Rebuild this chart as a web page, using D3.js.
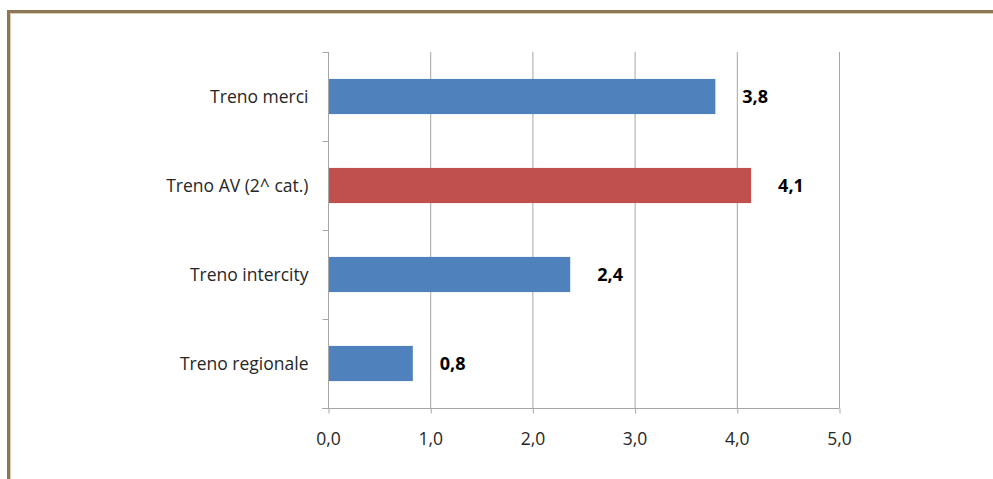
<!DOCTYPE html>
<html>
<head>
<meta charset="utf-8">
<script src="https://cdn.jsdelivr.net/npm/d3@7"></script>
<style>
  html, body { margin: 0; padding: 0; background: #fff; }
  svg { display: block; }
</style>
</head>
<body>
<svg id="chart" width="993" height="479"></svg>
<script>
// Train categories, top to bottom
const categories = ["Treno merci", "Treno AV (2^ cat.)", "Treno intercity", "Treno regionale"];
const values = [3.79, 4.14, 2.37, 0.83];
const barColors = ["#4F81BD", "#C0504D", "#4F81BD", "#4F81BD"];
const tickValues = [0, 1, 2, 3, 4, 5];

const svg = d3.select("#chart");
const W = 993, H = 479;
const fontFamily = "'Open Sans', 'Noto Sans', sans-serif";

// Frame border
svg.append("path")
  .attr("d", `M${8.5},${H} L${8.5},${11.5} L${W},${11.5}`)
  .attr("fill", "none").attr("stroke", "#8B7753").attr("stroke-width", 3);
svg.append("path")
  .attr("d", `M${10.5},${H} L${10.5},${13.5} L${W},${13.5}`)
  .attr("fill", "none").attr("stroke", "#D8CDB6").attr("stroke-width", 1);

const plot = { left: 328, right: 839, top: 52, bottom: 408 };

const x = d3.scaleLinear().domain([0, 5]).range([plot.left, plot.right]);
const y = d3.scaleBand().domain(categories).range([plot.top, plot.bottom]).paddingInner(0.605).paddingOuter(0.3025);

const fmt = v => d3.format(".1f")(v).replace(".", ",");

// Vertical gridlines
svg.append("g").selectAll("line")
  .data(tickValues.slice(1))
  .join("line")
  .attr("x1", d => x(d) + 0.5).attr("x2", d => x(d) + 0.5)
  .attr("y1", plot.top).attr("y2", plot.bottom)
  .attr("stroke", "#A6A6A6").attr("stroke-width", 1);

// Bars
svg.append("g").selectAll("rect")
  .data(categories)
  .join("rect")
  .attr("x", x(0) + 1)
  .attr("y", d => y(d))
  .attr("width", (d, i) => x(values[i]) - x(0) - 1)
  .attr("height", y.bandwidth())
  .attr("fill", (d, i) => barColors[i]);

// Bottom value axis
const xAxis = svg.append("g")
  .attr("transform", `translate(0,${plot.bottom + 0.5})`)
  .call(d3.axisBottom(x).tickValues(tickValues).tickSize(5).tickSizeOuter(0).tickPadding(19).tickFormat(fmt));
xAxis.select(".domain").attr("stroke", "#A6A6A6").attr("d", `M${plot.left - 6},0H${plot.right + 0.5}`);
xAxis.selectAll(".tick line").attr("stroke", "#A6A6A6").attr("transform", "translate(0.5,0)");
xAxis.selectAll("text")
  .attr("font-family", fontFamily).attr("font-size", 17.5).attr("fill", "#262626");

// Left category axis
const yAxis = svg.append("g")
  .attr("transform", `translate(${plot.left + 0.5},0)`);
yAxis.append("line")
  .attr("x1", 0).attr("x2", 0).attr("y1", plot.top).attr("y2", plot.bottom)
  .attr("stroke", "#A6A6A6");
const bounds = d3.range(categories.length + 1).map(i => plot.top + i * (plot.bottom - plot.top) / categories.length);
yAxis.selectAll(".cat-tick")
  .data(bounds)
  .join("line")
  .attr("class", "cat-tick")
  .attr("x1", -6).attr("x2", 0)
  .attr("y1", d => Math.round(d) + 0.5).attr("y2", d => Math.round(d) + 0.5)
  .attr("stroke", "#A6A6A6");
yAxis.selectAll(".cat-label")
  .data(categories)
  .join("text")
  .attr("class", "cat-label")
  .attr("x", -20)
  .attr("y", d => y(d) + y.bandwidth() / 2)
  .attr("dy", "0.35em")
  .attr("text-anchor", "end")
  .attr("font-family", fontFamily).attr("font-size", 17.5).attr("fill", "#262626")
  .text(d => d);

// Value labels
svg.append("g").selectAll("text")
  .data(categories)
  .join("text")
  .attr("x", (d, i) => x(values[i]) + 27)
  .attr("y", d => y(d) + y.bandwidth() / 2)
  .attr("dy", "0.35em")
  .attr("font-family", fontFamily).attr("font-size", 18).attr("font-weight", "bold").attr("fill", "#000")
  .text((d, i) => fmt(values[i]));
</script>
</body>
</html>
